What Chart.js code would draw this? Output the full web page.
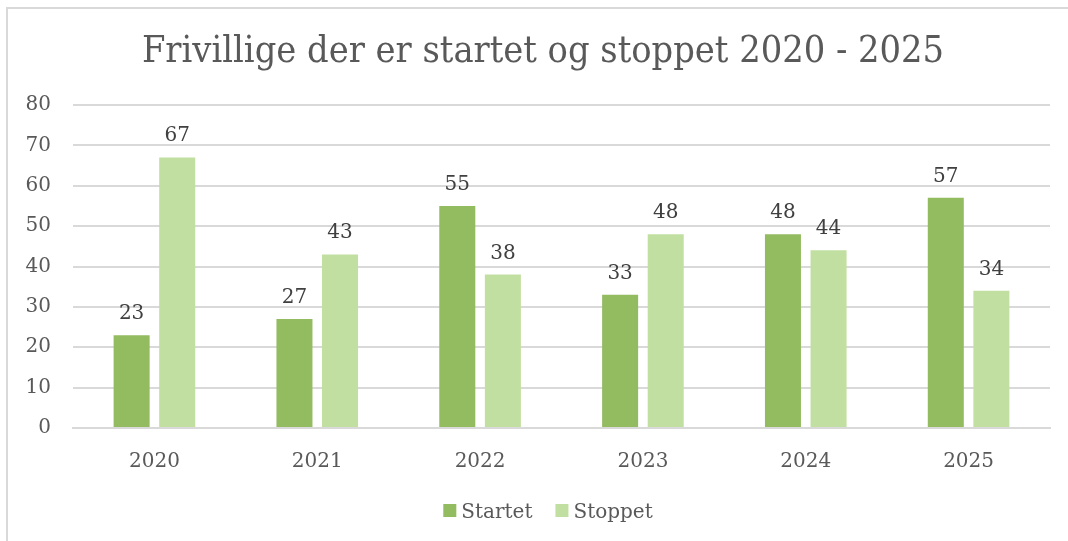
<!DOCTYPE html>
<html>
<head>
<meta charset="utf-8">
<script src="https://cdn.jsdelivr.net/npm/chart.js@4/dist/chart.umd.min.js"></script>
<style>
  html, body { margin: 0; padding: 0; background: #fff; }
  #wrap { position: relative; width: 1068px; height: 541px; overflow: hidden; }
  #frame { position: absolute; left: 6px; top: 7px; width: 1100px; height: 600px;
           border-top: 2px solid #d9d9d9; border-left: 2px solid #d9d9d9; box-sizing: border-box; pointer-events: none; }
  canvas { position: absolute; left: 0; top: 0; }
</style>
</head>
<body>
<div id="wrap">
  <canvas id="c" width="1068" height="541"></canvas>
  <div id="frame"></div>
</div>
<script>
const categories = ['2020', '2021', '2022', '2023', '2024', '2025'];
const startet = [23, 27, 55, 33, 48, 57];
const stoppet = [67, 43, 38, 48, 44, 34];
const seriesNames = ['Startet', 'Stoppet'];
const yTicks = [0, 10, 20, 30, 40, 50, 60, 70, 80];
const titleText = 'Frivillige der er startet og stoppet 2020 - 2025';

const TITLE_FONT = "'DejaVu Serif Condensed', 'DejaVu Serif', serif";
const FONT = "'DejaVu Serif', serif";

const dataLabels = {
  id: 'dataLabels',
  afterDatasetsDraw(chart) {
    const ctx = chart.ctx;
    ctx.save();
    ctx.font = '20px ' + FONT;
    ctx.fillStyle = '#404040';
    ctx.textAlign = 'center';
    ctx.textBaseline = 'alphabetic';
    chart.data.datasets.forEach((ds, i) => {
      const meta = chart.getDatasetMeta(i);
      meta.data.forEach((bar, j) => {
        ctx.fillText(String(ds.data[j]), bar.x, bar.y - 16);
      });
    });
    ctx.restore();
  }
};

const titleAndLegend = {
  id: 'titleAndLegend',
  afterDraw(chart) {
    const ctx = chart.ctx;
    ctx.save();
    // title
    ctx.font = '37.6px ' + TITLE_FONT;
    ctx.fillStyle = '#595959';
    ctx.textAlign = 'center';
    ctx.textBaseline = 'alphabetic';
    ctx.fillText(titleText, 543, 62);
    // legend
    ctx.font = '20px ' + FONT;
    ctx.textAlign = 'left';
    const box = 13, gapText = 5, gapItem = 23;
    const items = chart.data.datasets.map(ds => ({ label: ds.label, color: ds.backgroundColor, w: ctx.measureText(ds.label).width }));
    let total = 0;
    items.forEach((it, i) => { total += box + gapText + it.w + (i < items.length - 1 ? gapItem : 0); });
    let x = 548 - total / 2;
    const baseline = 518;
    items.forEach(it => {
      ctx.fillStyle = it.color;
      ctx.fillRect(x, baseline - 14, box, box);
      ctx.fillStyle = '#595959';
      ctx.fillText(it.label, x + box + gapText, baseline);
      x += box + gapText + it.w + gapItem;
    });
    ctx.restore();
  }
};

new Chart(document.getElementById('c'), {
  type: 'bar',
  data: {
    labels: categories,
    datasets: [
      { label: seriesNames[0], data: startet, backgroundColor: '#93bb60', borderWidth: 0 },
      { label: seriesNames[1], data: stoppet, backgroundColor: '#c1dfa0', borderWidth: 0 }
    ]
  },
  options: {
    responsive: false,
    animation: false,
    devicePixelRatio: 1,
    layout: { padding: { left: 0, right: 18, top: 105, bottom: 68 } },
    datasets: { bar: { categoryPercentage: 0.56, barPercentage: 0.79 } },
    plugins: {
      title: { display: false },
      legend: { display: false },
      tooltip: { enabled: false }
    },
    scales: {
      x: {
        afterFit(scale) { scale.height = 45; },
        grid: { display: false, drawTicks: false },
        border: { display: true, color: '#d9d9d9', width: 2 },
        ticks: { color: '#595959', font: { family: FONT, size: 20 }, padding: 22 }
      },
      y: {
        min: 0, max: 80,
        afterBuildTicks(scale) { scale.ticks = yTicks.map(v => ({ value: v })); },
        afterFit(scale) { scale.width = 73; },
        grid: { color: '#d9d9d9', lineWidth: 2, drawTicks: false },
        border: { display: false },
        ticks: { color: '#595959', font: { family: FONT, size: 20 }, padding: 22 }
      }
    }
  },
  plugins: [dataLabels, titleAndLegend]
});
</script>
</body>
</html>
